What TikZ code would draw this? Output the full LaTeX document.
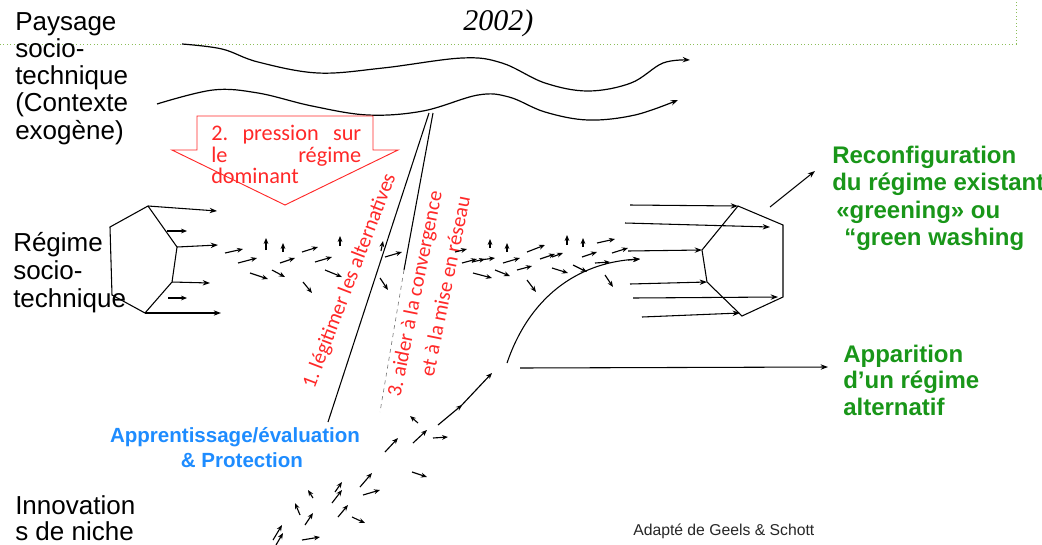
\documentclass[tikz,border=0pt]{standalone}
\usepackage{fontspec}
\setmainfont{Liberation Sans}
\newfontfamily\carl{Carlito}
\newfontfamily\tnr{Liberation Serif}
\usetikzlibrary{arrows.meta}
\definecolor{rd}{RGB}{255,40,40}
\definecolor{gn}{RGB}{25,150,25}
\definecolor{bl}{RGB}{30,140,255}
\definecolor{dg}{RGB}{140,190,90}
\frenchspacing
\begin{document}
\begin{tikzpicture}[x=0.75pt,y=-0.75pt,
 sa/.style={line width=0.85pt,-{Stealth[length=4.5pt,width=3.6pt]}},
 la/.style={line width=0.8pt,-{Stealth[length=5.5pt,width=4pt]}},
 lab/.style={anchor=base west,inner sep=0pt,font=\fontsize{19.5}{20}\selectfont},
 glab/.style={anchor=base west,inner sep=0pt,text=gn,font=\bfseries\fontsize{18}{20}\selectfont},
 blab/.style={anchor=base,inner sep=0pt,text=bl,font=\bfseries\fontsize{15.4}{18}\selectfont},
 rlab/.style={anchor=base west,inner sep=0pt,text=rd,font=\carl\fontsize{16.7}{18}\selectfont},
 rot/.style={inner sep=0pt,text=rd,font=\carl\fontsize{15.6}{18}\selectfont},
 hex/.style={line width=0.8pt}
]
\useasboundingbox (0,0) rectangle (1042,544);

% dotted frame line
\coordinate (d1) at (0,44);
\coordinate (d2) at (1016,44);
\coordinate (d3) at (1016,0);
\draw[dg,dotted,line width=0.6pt] (d1) -- (d2) -- (d3);
\node[anchor=base west,inner sep=0pt,font=\tnr\itshape\fontsize{22.5}{24}\selectfont] (yr) at (463,30) {2002)};

% left labels
\node[lab] (p1) at (15,30) {Paysage};
\node[lab] (p2) at (15,57.3) {socio-};
\node[lab] (p3) at (15,84.6) {technique};
\node[lab] (p4) at (15,111.9) {(Contexte};
\node[lab] (p5) at (15,139.2) {exogène)};
\node[lab] (r1) at (13,251) {Régime};
\node[lab] (r2) at (13,279) {socio-};
\node[lab] (r3) at (13,307) {technique};
\node[lab] (n1) at (15,514) {Innovation};
\node[lab] (n2) at (15,540) {s de niche};

% waves
\draw[la,line width=0.9pt] plot[smooth,tension=0.6] coordinates {(182,44) (222,49) (258,62) (318,73) (383,68) (462,58) (502,63) (545,83) (588,91) (631,83) (663,63) (690,60)};
\draw[la,line width=0.9pt] plot[smooth,tension=0.6] coordinates {(157,104) (213,90) (258,93) (312,106) (368,115) (423,111) (478,95) (509,97) (545,112) (588,120) (635,115) (678,100)};

% red pressure arrow
\draw[rd,line width=0.7pt] (197,116) -- (373,116) -- (373,150) -- (398,150) -- (285,205) -- (172,150) -- (197,150) -- cycle;
\node[rlab] (t1) at (211,140) {\makebox[112.5pt][s]{2. pression sur}};
\node[rlab] (t2) at (211,162) {\makebox[112.5pt][s]{le régime}};
\node[rlab] (t3) at (211,183) {dominant};

% two lines from landscape down
\coordinate (a1) at (429,113);
\coordinate (a2) at (328,422);
\coordinate (b1) at (433,113);
\coordinate (b2) at (404,270);
\coordinate (b3) at (380,412);
\draw[line width=0.8pt] (a1) -- (a2);
\draw[line width=0.8pt] (b1) -- (b2);
\draw[gray,dashed,line width=0.5pt] (b2) -- (b3);
\node[rot,rotate=69] (leg) at (350,281) {1. légitimer les alternatives};
\node[rot,rotate=78.5] (aid1) at (416,294) {3. aider à la convergence};
\node[rot,rotate=78.5] (aid2) at (445,286) {et à la mise en réseau};

% left regime polygon
\coordinate (L1) at (110,227);
\coordinate (L2) at (148,206);
\coordinate (L3) at (177,247);
\coordinate (L4) at (172,282);
\coordinate (L5) at (145,313);
\coordinate (L6) at (112,295);
\draw[hex] (L1) -- (L2) -- (L3) -- (L4) -- (L5) -- (L6) -- cycle;
\draw[la] (L2) -- (217,211);
\draw[sa] (167,231) -- (187,231);
\draw[la] (L3) -- (218,245);
\draw[la] (L4) -- (210,283);
\draw[sa] (168,298) -- (187,298);
\draw[la] (L5) -- (221,313);

% right regime polygon
\coordinate (R1) at (738,206);
\coordinate (R2) at (783,225);
\coordinate (R3) at (783,297);
\coordinate (R4) at (742,316);
\coordinate (R5) at (707,282);
\coordinate (R6) at (702,250);
\draw[hex] (R1) -- (R2) -- (R3) -- (R4) -- (R5) -- (R6) -- cycle;
\draw[la] (630,205) -- (R1);
\draw[la] (625,223) -- (770,227);
\draw[la] (628,251) -- (R6);
\draw[la] (630,284) -- (R5);
\draw[la] (633,298) -- (778,297);
\draw[la] (642,317) -- (740,313);

% scattered small arrows
\foreach \a/\b/\c/\d in {
 225/253/243/249, 238/263/257/258, 250/273/268/279, 266/250/266/238, 283/252/283/243,
 272/270/285/277, 280/263/295/258, 302/252/318/247, 303/282/312/293, 315/262/332/257,
 325/270/342/277, 340/246/340/236, 381/251/383/241, 385/257/402/252, 380/278/388/290,
 455/252/467/249, 462/263/477/259, 472/262/485/259, 480/260/495/258, 490/248/490/239,
 507/252/507/243, 473/273/492/278, 495/270/510/276, 503/263/520/258, 517/270/532/266,
 527/252/545/245, 527/280/536/292, 540/259/555/254, 552/257/563/253, 567/245/567/235,
 583/247/583/238, 552/268/568/273, 573/265/587/272, 582/257/597/252, 597/243/615/239,
 612/253/628/248, 595/263/610/262, 605/275/613/287, 628/260/640/259,
 460/407/492/373, 438/425/462/405, 413/443/427/430, 418/423/410/416, 433/438/448/437,
 385/452/398/438, 412/472/427/477, 360/487/372/473, 363/495/380/490, 335/492/342/482,
 332/503/342/490, 338/517/348/505, 352/517/365/523, 313/498/308/490, 305/525/313/513,
 300/515/295/503, 273/540/282/525, 276/545/283/533, 302/540/320/537}
 \draw[sa] (\a,\b) -- (\c,\d);

% niche trajectory and outcomes
\coordinate (c0) at (507,363);
\coordinate (c1) at (640,259);
\draw[la] (c0) .. controls (532,290) and (585,262) .. (c1);
\coordinate (h0) at (520,368);
\coordinate (h1) at (828,367);
\draw[la] (h0) -- (h1);
\coordinate (g0) at (770,207);
\coordinate (g1) at (815,171);
\draw[la] (g0) -- (g1);

% green labels
\node[glab] (g1a) at (832,163) {Reconfiguration};
\node[glab] (g1b) at (832,190) {du régime existant};
\node[glab] (g1c) at (836,218) {«greening» ou};
\node[glab] (g1d) at (844,245) {“green washing};
\node[glab] (g2a) at (843,362) {Apparition};
\node[glab] (g2b) at (843,388) {d’un régime};
\node[glab] (g2c) at (843,415) {alternatif};

% blue label
\node[blab] (bl1) at (235,442) {Apprentissage/évaluation};
\node[blab] (bl2) at (242,467) {\& Protection};

% source
\node[anchor=base west,inner sep=0pt,font=\fontsize{11.8}{13}\selectfont,text=black!85] (src) at (633,535) {Adapté de Geels \& Schott};
\end{tikzpicture}
\end{document}
